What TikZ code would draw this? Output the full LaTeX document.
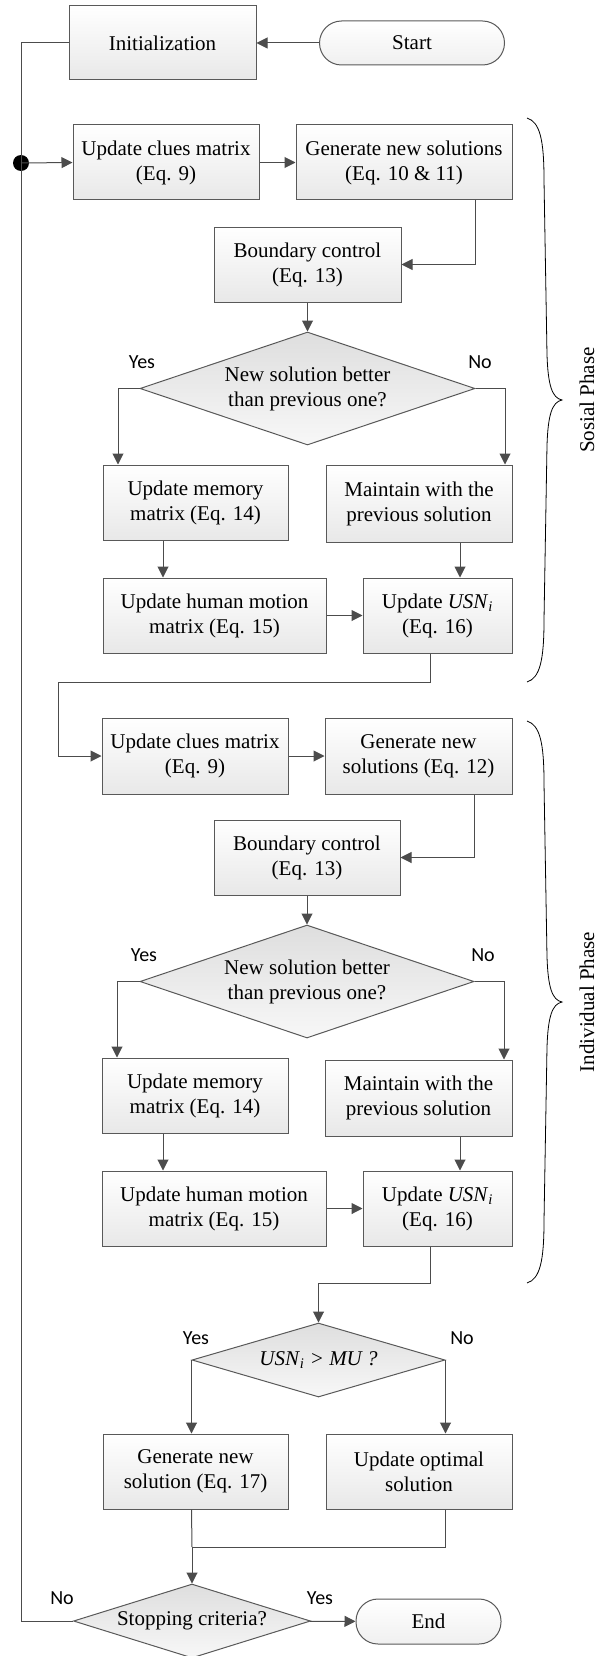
\documentclass[tikz,border=0pt]{standalone}
\usepackage{fontspec}
\setmainfont{Liberation Serif}
\newfontfamily\yesnofont{Carlito}
\usetikzlibrary{shapes.geometric,arrows.meta}

\begin{document}
\begin{tikzpicture}[x=1pt,y=-1pt,
  every node/.style={font=\fontsize{21}{25}\selectfont},
  box/.style={draw=black!65,line width=1pt,top color=white,bottom color=black!9,minimum height=75pt,inner sep=0pt,align=center},
  term/.style={box,rounded corners=22pt,minimum height=44pt,bottom color=black!6},
  decide/.style={diamond,draw=black!65,line width=1pt,top color=black!13,bottom color=black!3,inner sep=0pt,aspect=3,align=center},
  line/.style={draw=black!70,line width=1pt},
  arr/.style={line,-{Triangle[length=11pt,width=11pt]}},
  answer/.style={font=\yesnofont\fontsize{20}{24}\selectfont},
  brace line/.style={draw=black,line width=0.8pt}]
\useasboundingbox (0,0) rectangle (604,1656);

\node[term,minimum width=185pt] (start) at (412,43) {Start};
\node[box,minimum width=187pt,minimum height=74pt] (init) at (162.5,43) {Initialization};
\node[circle,fill=black,inner sep=0pt,minimum size=16pt] (dot) at (21,163) {};

% social phase
\node[box,minimum width=186pt] (clues1) at (166,162.5) {Update clues matrix\\(Eq. 9)};
\node[box,minimum width=216pt] (gen1) at (404,162.5) {Generate new solutions\\(Eq. 10 \& 11)};
\node[box,minimum width=187pt] (bound1) at (307.5,264.5) {Boundary control\\(Eq. 13)};
\node[decide,minimum width=335pt,minimum height=113pt] (dec1) at (307.5,388.5) {New solution better\\than previous one?};
\node[box,minimum width=185pt] (mem1) at (195.5,502.5) {Update memory\\matrix (Eq. 14)};
\node[box,minimum width=186pt,minimum height=77pt] (keep1) at (419,503.5) {Maintain with the\\previous solution};
\node[box,minimum width=223pt] (human1) at (214.5,615.5) {Update human motion\\matrix (Eq. 15)};
\node[box,minimum width=149pt] (usn1) at (437.5,615.5) {Update \textit{USN}\textsubscript{\textit{i}}\\(Eq. 16)};
\node[answer] (yes1) at (142,362) {Yes};
\node[answer] (no1) at (480,362) {No};

\draw[arr] (start) -- (init);
\draw[line] (init.west) -| (dot.center);
\draw[arr] (dot.center) -- (clues1.west);
\draw[arr] (clues1) -- (gen1);
\draw[arr] ([xshift=71pt]gen1.south) |- (bound1.east);
\draw[arr] (bound1) -- (dec1);
\draw[arr] (dec1.west) -| ([xshift=-77.5pt]mem1.north);
\draw[arr] (dec1.east) -| ([xshift=86pt]keep1.north);
\draw[arr] ([xshift=-32.5pt]mem1.south) -- ([xshift=-32.5pt]mem1.south |- human1.north);
\draw[arr] ([xshift=41pt]keep1.south) -- ([xshift=41pt]keep1.south |- usn1.north);
\draw[arr] (human1) -- (usn1);

% individual phase
\node[box,minimum width=186pt,minimum height=76pt] (clues2) at (195,756) {Update clues matrix\\(Eq. 9)};
\node[box,minimum width=187pt,minimum height=76pt] (gen2) at (418.5,756) {Generate new\\solutions (Eq. 12)};
\node[box,minimum width=186pt] (bound2) at (307,857.5) {Boundary control\\(Eq. 13)};
\node[decide,minimum width=334pt,minimum height=113pt] (dec2) at (307,981.5) {New solution better\\than previous one?};
\node[box,minimum width=186pt] (mem2) at (195,1095.5) {Update memory\\matrix (Eq. 14)};
\node[box,minimum width=187pt,minimum height=76pt] (keep2) at (418.5,1098) {Maintain with the\\previous solution};
\node[box,minimum width=224pt] (human2) at (214,1208.5) {Update human motion\\matrix (Eq. 15)};
\node[box,minimum width=149pt] (usn2) at (437.5,1208.5) {Update \textit{USN}\textsubscript{\textit{i}}\\(Eq. 16)};
\node[answer] (yes2) at (144,955) {Yes};
\node[answer] (no2) at (483,955) {No};

\coordinate (turn1) at (58,682);
\draw[arr] ([xshift=-7.5pt]usn1.south) |- (turn1) |- (clues2.west);
\draw[arr] (clues2) -- (gen2);
\draw[arr] ([xshift=55.5pt]gen2.south) |- (bound2.east);
\draw[arr] (bound2) -- (dec2);
\draw[arr] (dec2.west) -| ([xshift=-78pt]mem2.north);
\draw[arr] (dec2.east) -| ([xshift=85.5pt]keep2.north);
\draw[arr] ([xshift=-32pt]mem2.south) -- ([xshift=-32pt]mem2.south |- human2.north);
\draw[arr] ([xshift=41.5pt]keep2.south) -- ([xshift=41.5pt]keep2.south |- usn2.north);
\draw[arr] (human2) -- (usn2);

% final checks
\node[decide,minimum width=253pt,minimum height=74pt] (dec3) at (318.5,1360) {\textit{USN}\textsubscript{\textit{i}}\textit{ > MU ?}};
\node[box,minimum width=185pt] (gen3) at (195.5,1471.5) {Generate new\\solution (Eq. 17)};
\node[box,minimum width=186pt] (best) at (419,1471.5) {Update optimal\\solution};
\node[decide,minimum width=237pt,minimum height=74pt] (stop) at (192,1621) {Stopping criteria?};
\node[term,minimum width=145pt,minimum height=45pt] (end) at (428.5,1621.5) {End};
\node[answer] (yes3) at (196,1338) {Yes};
\node[answer] (no3) at (462,1338) {No};
\node[answer] (yes4) at (320,1598) {Yes};
\node[answer] (no4) at (62,1598) {No};

\coordinate (turn2) at (318.5,1283);
\coordinate (merge) at (192,1547);
\draw[arr] ([xshift=-7.5pt]usn2.south) |- (turn2) -- (dec3.north);
\draw[arr] (dec3.west) -- (dec3.west |- gen3.north);
\draw[arr] (dec3.east) -- (dec3.east |- best.north);
\draw[line] (dec3.west |- gen3.south) -- (merge);
\draw[line] (dec3.east |- best.south) |- (merge);
\draw[arr] (merge) -- (stop);
\draw[arr] (stop) -- (end);
\draw[line] (stop.west) -| (dot.center);

% braces
\draw[brace line] (527,118) .. controls (540,122) and (544,140) .. (544,180) -- (547,355) .. controls (548,385) and (552,398) .. (562,400) .. controls (552,402) and (548,415) .. (547,445) -- (544,620) .. controls (544,660) and (540,678) .. (527,682);
\draw[brace line] (527,721) .. controls (540,725) and (544,743) .. (544,783) -- (547,957) .. controls (548,987) and (552,1000) .. (562,1002) .. controls (552,1004) and (548,1017) .. (547,1047) -- (544,1221) .. controls (544,1261) and (540,1279) .. (527,1283);
\node[rotate=90] (social) at (587,400) {Sosial Phase};
\node[rotate=90] (indiv) at (587,1002) {Individual Phase};
\end{tikzpicture}
\end{document}
